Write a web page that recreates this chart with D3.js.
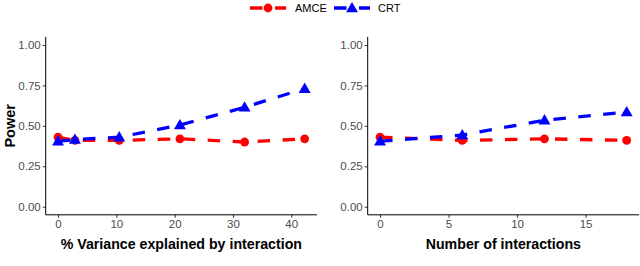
<!DOCTYPE html>
<html><head><meta charset="utf-8">
<script src="https://cdn.jsdelivr.net/npm/d3@7"></script>
<style>
body{margin:0;background:#fff;}
svg{display:block;font-family:"Liberation Sans",Arial,sans-serif;}
</style></head>
<body><svg id="c" width="640" height="266"></svg>
<script>
const seriesNames = ["AMCE","CRT"];
const seriesColors = ["#ff0000","#0000ff"];
const varX = [0, 2.9, 10.5, 20.9, 32.0, 42.3];
const varAMCE = [0.43, 0.41, 0.41, 0.42, 0.40, 0.42];
const varCRT = [0.405, 0.415, 0.43, 0.505, 0.615, 0.73];
const numX = [0, 6, 12, 18];
const numAMCE = [0.43, 0.41, 0.42, 0.41];
const numCRT = [0.405, 0.443, 0.535, 0.585];
const yTicks = [0, 0.25, 0.5, 0.75, 1.0];
const varTicks = [0, 10, 20, 30, 40];
const numTicks = [0, 5, 10, 15];
const xTitles = ["% Variance explained by interaction", "Number of interactions"];
const yTitle = "Power";

const svg = d3.select("#c");
const pTop = 36.9, pBottom = 214.8;
const y = d3.scaleLinear().domain([-0.05, 1.05]).range([pBottom, pTop]);

function expand(ext){const r=ext[1]-ext[0];return [ext[0]-0.05*r, ext[1]+0.05*r];}

const panels = [
  {x0:45.7, x1:317, xs:varX, a:varAMCE, c:varCRT, ticks:varTicks, title:xTitles[0]},
  {x0:367.7, x1:639, xs:numX, a:numAMCE, c:numCRT, ticks:numTicks, title:xTitles[1]}
];

const tri = d3.symbol().type(d3.symbolTriangle).size(62);

panels.forEach((p)=>{
  const x = d3.scaleLinear().domain(expand(d3.extent(p.xs))).range([p.x0, p.x1]);
  const g = svg.append("g");
  const ya = g.append("g").attr("transform",`translate(${p.x0},0)`)
    .call(d3.axisLeft(y).tickValues(yTicks).tickFormat(d3.format(".2f")).tickSize(3).tickPadding(2));
  const xa = g.append("g").attr("transform",`translate(0,${pBottom})`)
    .call(d3.axisBottom(x).tickValues(p.ticks).tickFormat(d3.format("d")).tickSize(3).tickPadding(2.5));
  [ya,xa].forEach(a=>{
    a.select(".domain").remove();
    a.selectAll(".tick line").attr("stroke","#333").attr("stroke-width",1);
    a.selectAll(".tick text").attr("fill","#4d4d4d").style("font-size","11.5px").style("font-family","Liberation Sans, Arial, sans-serif");
  });
  g.append("line").attr("x1",p.x0).attr("x2",p.x0).attr("y1",pTop).attr("y2",pBottom).attr("stroke","#000").attr("stroke-width",1);
  g.append("line").attr("x1",p.x0).attr("x2",p.x1).attr("y1",pBottom).attr("y2",pBottom).attr("stroke","#000").attr("stroke-width",1);
  g.append("text").attr("x",(p.x0+p.x1)/2).attr("y",248.5).attr("text-anchor","middle")
    .style("font-size","14.2px").style("font-weight","bold").attr("fill","#000").text(p.title);

  const line = d3.line().x(d=>x(d[0])).y(d=>y(d[1]));
  const sets = [p.a, p.c];
  sets.forEach((vals,i)=>{
    g.append("path").datum(p.xs.map((xv,j)=>[xv, vals[j]]))
      .attr("d",line).attr("fill","none").attr("stroke",seriesColors[i])
      .attr("stroke-width",3.3).attr("stroke-dasharray","12.5,12.5");
  });
  sets.forEach((vals,i)=>{
    const pts = p.xs.map((xv,j)=>[xv, vals[j]]);
    if(i===0){
      g.selectAll(null).data(pts).enter().append("circle")
        .attr("cx",d=>x(d[0])).attr("cy",d=>y(d[1])).attr("r",4.4).attr("fill",seriesColors[i]);
    } else {
      g.selectAll(null).data(pts).enter().append("path")
        .attr("d",tri).attr("transform",d=>`translate(${x(d[0])},${y(d[1])+0.8})`).attr("fill",seriesColors[i]);
    }
  });
});

svg.append("text").attr("transform",`translate(15,${(pTop+pBottom)/2}) rotate(-90)`)
  .attr("text-anchor","middle").style("font-size","14.5px").style("font-weight","bold").text(yTitle);

const leg = svg.append("g");
const keys = [{x:250, tx:295}, {x:334, tx:378}];
seriesNames.forEach((n,i)=>{
  const k = keys[i];
  leg.append("line").attr("x1",k.x).attr("x2",k.x+36).attr("y1",8).attr("y2",8)
    .attr("stroke",seriesColors[i]).attr("stroke-width",3.3).attr("stroke-dasharray","12.5,12.5");
  if(i===0) leg.append("circle").attr("cx",k.x+18).attr("cy",8).attr("r",4.4).attr("fill",seriesColors[i]);
  else leg.append("path").attr("d",tri).attr("transform",`translate(${k.x+18},8.8)`).attr("fill",seriesColors[i]);
  leg.append("text").attr("x",k.tx).attr("y",12).style("font-size","11px").attr("fill","#000").text(n);
});
</script></body></html>
